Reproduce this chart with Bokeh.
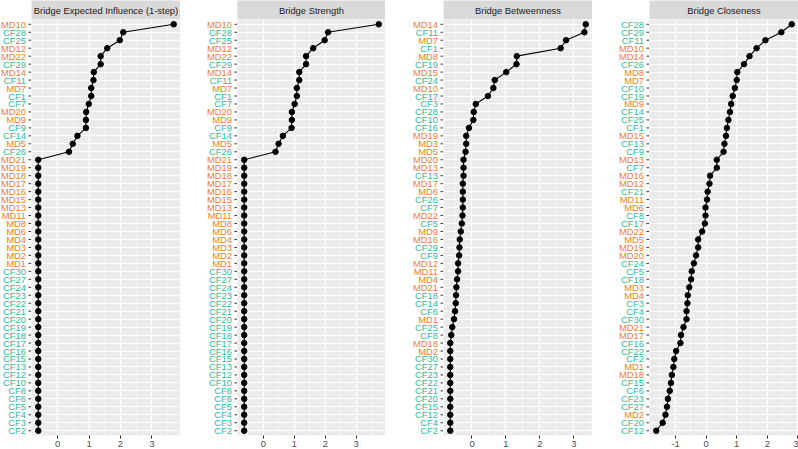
import math

from bokeh.core.properties import value
from bokeh.embed import file_html
from bokeh.layouts import column, row
from bokeh.models import (ColumnDataSource, FactorRange, PrintfTickFormatter, Range1d,
                          SingleIntervalTicker)
from bokeh.plotting import figure
from bokeh.resources import INLINE

# ---- data: nodes ordered from highest to lowest in each panel ----
ei_labels = ["MD10", "CF28", "CF25", "MD12", "MD22", "CF29", "MD14", "CF11", "MD7", "CF1",
             "CF7", "MD20", "MD9", "CF9", "CF14", "MD5", "CF26", "MD21", "MD19", "MD18",
             "MD17", "MD16", "MD15", "MD13", "MD11", "MD8", "MD6", "MD4", "MD3", "MD2",
             "MD1", "CF30", "CF27", "CF24", "CF23", "CF22", "CF21", "CF20", "CF19", "CF18",
             "CF17", "CF16", "CF15", "CF13", "CF12", "CF10", "CF8", "CF6", "CF5", "CF4",
             "CF3", "CF2"]
ei_values = [3.70, 2.09, 1.98, 1.58, 1.37, 1.37, 1.15, 1.14, 1.07, 1.07,
             0.99, 0.91, 0.90, 0.90, 0.63, 0.48, 0.36] + [-0.62] * 35

str_labels = list(ei_labels)
str_values = [3.73, 2.09, 1.98, 1.61, 1.38, 1.38, 1.16, 1.16, 1.08, 1.08,
              1.01, 0.92, 0.92, 0.91, 0.63, 0.49, 0.39] + [-0.62] * 35

btw_labels = ["MD14", "CF11", "MD7", "CF1", "MD8", "CF19", "MD15", "CF24", "MD10", "CF17",
              "CF3", "CF28", "CF10", "CF16", "MD19", "MD3", "MD5", "MD20", "MD13", "CF13",
              "MD17", "MD6", "CF26", "CF7", "MD22", "CF5", "MD9", "MD16", "CF29", "CF9",
              "MD12", "MD11", "MD4", "MD21", "CF18", "CF14", "CF6", "MD1", "CF25", "CF8",
              "MD18", "MD2", "CF30", "CF27", "CF23", "CF22", "CF21", "CF20", "CF15", "CF12",
              "CF4", "CF2"]
btw_values = [3.35, 3.31, 2.77, 2.61, 1.32, 1.31, 1.01, 0.67, 0.63, 0.47,
              0.11, 0.05, 0.04, -0.09, -0.17, -0.17, -0.19, -0.25, -0.25, -0.25,
              -0.27, -0.27, -0.27, -0.27, -0.28, -0.30, -0.33, -0.36, -0.37, -0.38,
              -0.41, -0.41, -0.44, -0.46, -0.47, -0.48, -0.50, -0.53, -0.58, -0.61,
              -0.64, -0.64, -0.64, -0.64, -0.64, -0.64, -0.64, -0.64, -0.64, -0.64,
              -0.64, -0.64]

clo_labels = ["CF28", "CF29", "CF11", "MD10", "MD14", "CF26", "MD8", "MD7", "CF10", "CF19",
              "MD9", "CF14", "CF25", "CF1", "MD15", "CF13", "CF9", "MD13", "CF7", "MD16",
              "MD12", "CF21", "MD11", "MD6", "CF8", "CF17", "MD22", "MD5", "MD19", "MD20",
              "CF24", "CF5", "CF18", "MD3", "MD4", "CF3", "CF4", "CF30", "MD21", "MD17",
              "CF16", "CF22", "CF2", "MD1", "MD18", "CF15", "CF6", "CF23", "CF27", "MD2",
              "CF20", "CF12"]
clo_values = [2.80, 2.46, 1.94, 1.65, 1.42, 1.24, 1.02, 1.00, 0.94, 0.87,
              0.82, 0.78, 0.73, 0.68, 0.65, 0.60, 0.57, 0.35, 0.35, 0.13,
              0.11, 0.05, 0.03, -0.02, -0.02, -0.04, -0.13, -0.26, -0.26, -0.33,
              -0.40, -0.47, -0.49, -0.55, -0.60, -0.61, -0.64, -0.64, -0.74, -0.82,
              -0.84, -0.98, -1.04, -1.07, -1.12, -1.15, -1.19, -1.25, -1.28, -1.33,
              -1.42, -1.63]

panel_titles = ["Bridge Expected Influence (1-step)", "Bridge Strength",
                "Bridge Betweenness", "Bridge Closeness"]
panel_labels = [ei_labels, str_labels, btw_labels, clo_labels]
panel_values = [ei_values, str_values, btw_values, clo_values]

# ---- styling ----
MD_COLOR = "#F07E2C"
CF_COLOR = "#36B995"
FONT = "Liberation Sans"
FONT_SIZE = "9.4px"
PANEL_BG = "#EBEBEB"
STRIP_BG = "#D9D9D9"
TICK_COLOR = "#333333"

FRAME_H = 416
STRIP_H = 19
BOTTOM = 14
label_widths = [31, 57, 58, 57]
frame_widths = [149, 148, 149, 149]


def label_column(labels, y_range, width):
    """Coloured node names with small tick marks, right-aligned against the panel."""
    lf = figure(x_range=Range1d(0, 1), y_range=y_range,
                frame_width=width, frame_height=FRAME_H,
                x_axis_location=None, y_axis_location=None,
                min_border=0, min_border_top=STRIP_H, min_border_bottom=BOTTOM,
                toolbar_location=None, output_backend="svg")
    lf.outline_line_color = None
    lf.grid.visible = False
    src = ColumnDataSource(dict(
        x=[1] * len(labels),
        y=labels,
        color=[MD_COLOR if s.startswith("MD") else CF_COLOR for s in labels],
    ))
    lf.text(x="x", y="y", text="y", source=src, text_color="color",
            text_align="right", text_baseline="middle", x_offset=-5.5,
            text_font=value(FONT), text_font_size=FONT_SIZE)
    lf.ray(x="x", y="y", source=src, length=3, length_units="screen",
           angle=math.pi, line_color=TICK_COLOR, line_width=1)
    return lf


def strip(title, width):
    s = figure(x_range=Range1d(0, 1), y_range=Range1d(0, 1),
               frame_width=width, frame_height=STRIP_H,
               x_axis_location=None, y_axis_location=None, min_border=0,
               toolbar_location=None, output_backend="svg")
    s.background_fill_color = STRIP_BG
    s.outline_line_color = None
    s.grid.visible = False
    s.text(x=[0.5], y=[0.5], text=[title], text_align="center",
           text_baseline="middle", text_font=value(FONT),
           text_font_size=FONT_SIZE, text_color="#1A1A1A")
    return s


def panel(labels, values, y_range, width):
    lo, hi = min(values), max(values)
    pad = (hi - lo) * 0.05
    p = figure(x_range=Range1d(lo - pad, hi + pad), y_range=y_range,
               frame_width=width, frame_height=FRAME_H,
               min_border=0, min_border_bottom=BOTTOM,
               toolbar_location=None, output_backend="svg")
    p.background_fill_color = PANEL_BG
    p.outline_line_color = None
    p.yaxis.visible = False

    ax = p.xaxis[0]
    ax.ticker = SingleIntervalTicker(interval=1, num_minor_ticks=2)
    ax.formatter = PrintfTickFormatter(format="%d")
    ax.axis_line_color = None
    ax.major_tick_line_color = TICK_COLOR
    ax.major_tick_out = 3
    ax.major_tick_in = 0
    ax.minor_tick_line_color = None
    ax.major_label_standoff = 1
    ax.major_label_text_color = "#4D4D4D"
    ax.major_label_text_font = FONT
    ax.major_label_text_font_size = FONT_SIZE

    p.xgrid.grid_line_color = "white"
    p.xgrid.grid_line_width = 1.1
    p.xgrid.minor_grid_line_color = "white"
    p.xgrid.minor_grid_line_width = 0.55
    p.ygrid.grid_line_color = "white"
    p.ygrid.grid_line_width = 1.1

    p.line(x=values, y=labels, line_color="black", line_width=1.1)
    p.scatter(x=values, y=labels, size=5.5, color="black")
    return p


items = []
for title, labels, values, lw, fw in zip(panel_titles, panel_labels, panel_values,
                                         label_widths, frame_widths):
    yr = FactorRange(factors=labels[::-1], range_padding=0.1,
                     range_padding_units="absolute")
    items.append(label_column(labels, yr, lw))
    items.append(column(strip(title, fw), panel(labels, values, yr, fw), spacing=0))

layout = row(*items, spacing=0)

open("out.html", "w").write(file_html(layout, INLINE))
